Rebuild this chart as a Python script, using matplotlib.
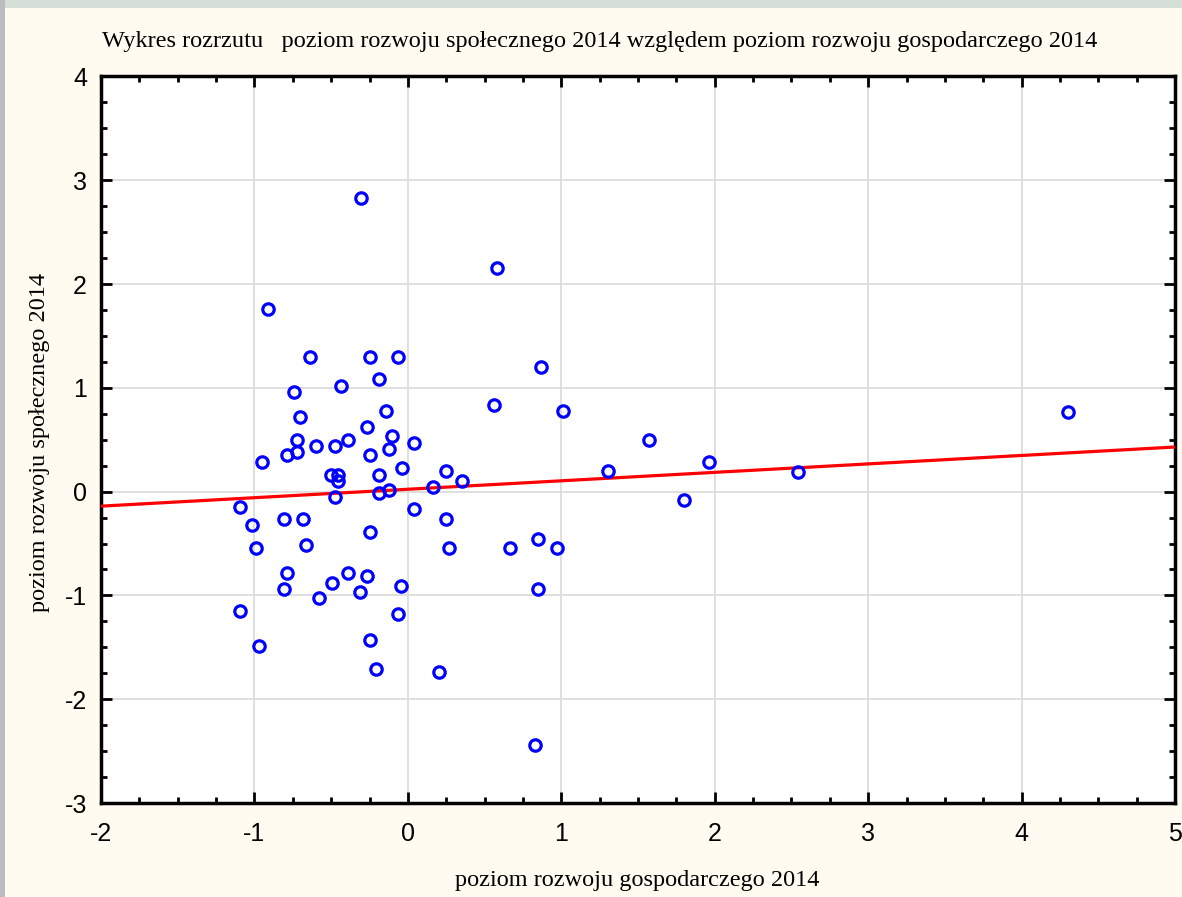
import matplotlib
matplotlib.use("Agg")
import matplotlib.pyplot as plt
from matplotlib.patches import Rectangle
from matplotlib.ticker import MultipleLocator
import numpy as np

# data: poziom rozwoju gospodarczego 2014 (x) vs poziom rozwoju społecznego 2014 (y)
gospodarczy = [
    -0.307, 0.578, -0.910, -0.640, -0.246, -0.061, 0.870, -0.185, -0.433, -0.742,
    0.559, 1.014, 4.303, -0.144, -0.703, -0.268, -0.102, -0.723, -0.392, 0.043,
    1.573, -0.599, -0.477, -0.124, -0.786, -0.723, -0.246, -0.951, 1.965, -0.039,
    0.248, 1.303, 2.541, -0.499, -0.453, -0.185, -0.453, 0.350, 0.167, -0.122,
    -0.185, -0.477, 1.799, -1.097, 0.043, -0.806, -0.681, 0.248, -1.014, -0.246,
    0.846, -0.662, -0.992, 0.268, 0.663, 0.973, -0.786, -0.392, -0.268, -0.496,
    -0.042, -0.806, 0.846, -0.309, -0.579, -1.097, -0.063, -0.246, -0.973, -0.207,
    0.204, 0.829,
]
spoleczny = [
    2.827, 2.157, 1.760, 1.294, 1.294, 1.294, 1.205, 1.083, 1.019, 0.962,
    0.837, 0.775, 0.772, 0.775, 0.717, 0.625, 0.532, 0.500, 0.500, 0.471,
    0.500, 0.442, 0.442, 0.410, 0.349, 0.378, 0.349, 0.288, 0.288, 0.224,
    0.195, 0.195, 0.192, 0.163, 0.163, 0.163, 0.102, 0.106, 0.041, 0.015,
    -0.016, -0.048, -0.084, -0.144, -0.170, -0.266, -0.266, -0.266, -0.324, -0.388,
    -0.452, -0.510, -0.542, -0.542, -0.545, -0.545, -0.788, -0.788, -0.817, -0.879,
    -0.908, -0.939, -0.939, -0.971, -1.029, -1.154, -1.183, -1.433, -1.490, -1.709,
    -1.735, -2.442,
]
# fitted regression line
line_intercept = 0.023
line_slope = 0.0814

x_ticks = [-2, -1, 0, 1, 2, 3, 4, 5]
y_ticks = [-3, -2, -1, 0, 1, 2, 3, 4]

title = "Wykres rozrzutu   poziom rozwoju społecznego 2014 względem poziom rozwoju gospodarczego 2014"
xlabel = "poziom rozwoju gospodarczego 2014"
ylabel = "poziom rozwoju społecznego 2014"

W, H = 1182, 897
fig = plt.figure(figsize=(W / 100, H / 100), dpi=100, facecolor="#fffbf0")

# frame border strips
fig.patches.append(Rectangle((0, 1 - 8 / H), 1, 8 / H, transform=fig.transFigure,
                             facecolor="#d6ded8", edgecolor="none", zorder=0))
fig.patches.append(Rectangle((0, 0), 5 / W, 1, transform=fig.transFigure,
                             facecolor="#b9bdc0", edgecolor="none", zorder=0))

ax = fig.add_axes([101 / W, 1 - 803 / H, (1175 - 101) / W, (803 - 76.5) / H])
ax.set_facecolor("white")

ax.set_xlim(x_ticks[0], x_ticks[-1])
ax.set_ylim(y_ticks[0], y_ticks[-1])
ax.set_xticks(x_ticks)
ax.set_yticks(y_ticks)
ax.xaxis.set_minor_locator(MultipleLocator(0.25))
ax.yaxis.set_minor_locator(MultipleLocator(0.25))
ax.set_xticklabels([str(t) for t in x_ticks], family="Liberation Sans", fontsize=18)
ax.set_yticklabels([str(t) for t in y_ticks], family="Liberation Sans", fontsize=18)
ax.tick_params(which="both", direction="in", top=True, right=True, width=2, color="black")
ax.tick_params(which="major", length=8)
ax.tick_params(which="minor", length=4)
ax.tick_params(axis="x", which="major", pad=14)
ax.tick_params(axis="y", which="major", pad=10)

ax.grid(True, which="major", color="#dcdcdc", linewidth=1.3)
ax.set_axisbelow(True)
for s in ax.spines.values():
    s.set_linewidth(2.5)
    s.set_color("black")

xs = np.array(x_ticks[0:1] + x_ticks[-1:], dtype=float)
ax.plot(xs, line_intercept + line_slope * xs, color="red", linewidth=2.3, zorder=3)

ax.plot(gospodarczy, spoleczny, linestyle="none", marker="o", markersize=8.2,
        markerfacecolor="none", markeredgecolor="blue", markeredgewidth=2.3, zorder=4)

fig.text(600 / W, 1 - 42 / H, title, ha="center", va="center",
         family="Liberation Serif", fontsize=17.5)
fig.text(637 / W, 1 - 880 / H, xlabel, ha="center", va="center",
         family="Liberation Serif", fontsize=17.5)
fig.text(40 / W, 1 - 442 / H, ylabel, ha="center", va="center", rotation=90,
         family="Liberation Serif", fontsize=17.5)

fig.savefig("out.png", dpi=100, facecolor=fig.get_facecolor())
